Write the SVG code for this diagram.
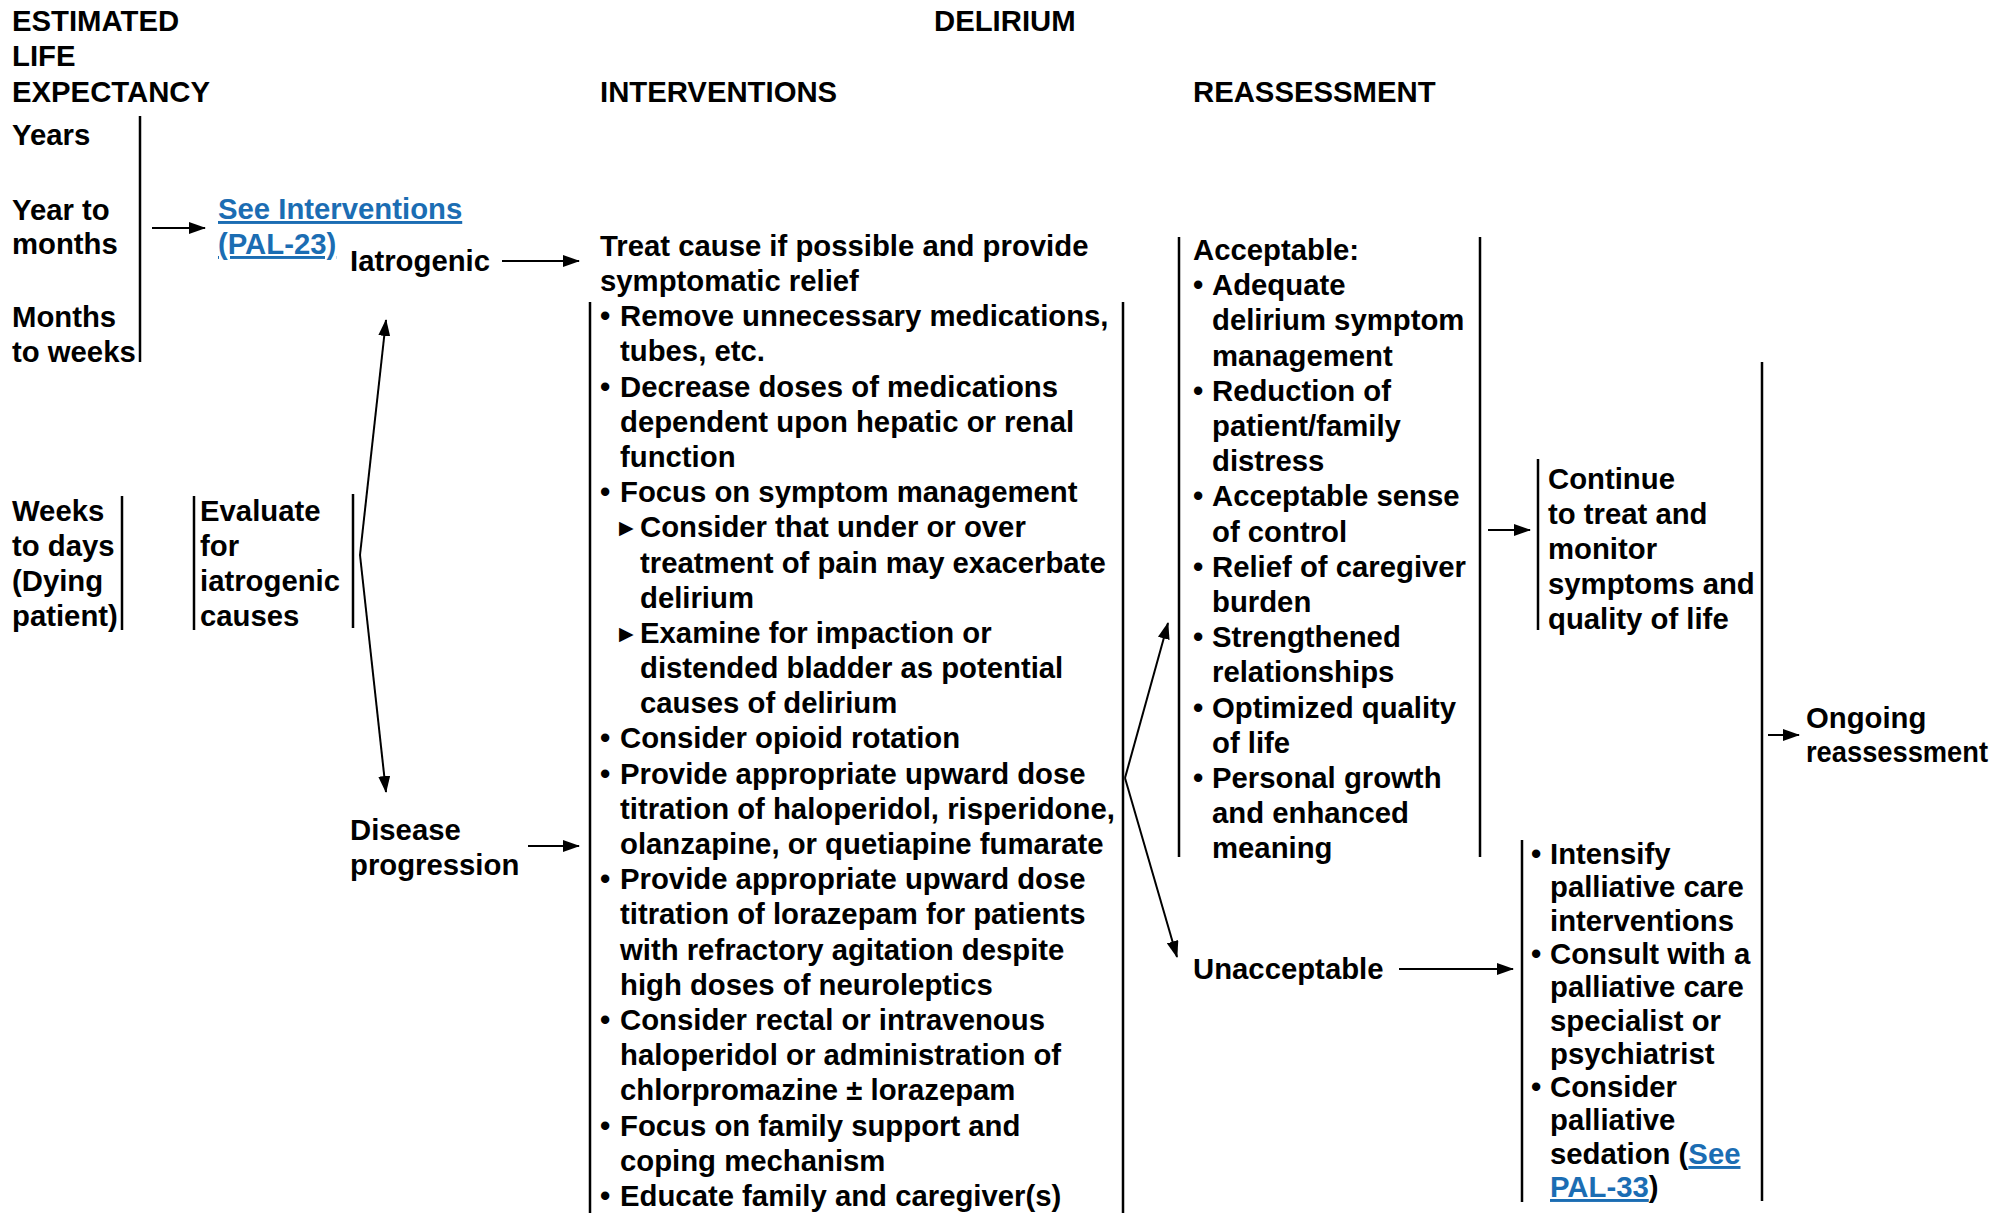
<svg xmlns="http://www.w3.org/2000/svg" width="1999" height="1213" viewBox="0 0 1999 1213">
<style>
text{font-family:"Liberation Sans",Arial,sans-serif;font-weight:bold;font-size:29.3px;fill:#000}
.lk{fill:#1b6db3;text-decoration:underline}
.tri{font-family:"DejaVu Sans",sans-serif;font-size:19px}
.bar{stroke:#000;stroke-width:2.5;fill:none}
.con{stroke:#000;stroke-width:2;fill:none;marker-end:url(#ah)}
</style>
<defs>
<marker id="ah" markerUnits="userSpaceOnUse" markerWidth="17" markerHeight="12" refX="16" refY="6" orient="auto">
<path d="M0,0 L17,6 L0,12 z" fill="#000"/>
</marker>
</defs>
<rect width="1999" height="1213" fill="#fff"/>

<g id="headers">
<text x="12" y="31">ESTIMATED</text>
<text x="12" y="66">LIFE</text>
<text x="12" y="102">EXPECTANCY</text>
<text x="934" y="31">DELIRIUM</text>
<text x="600" y="102">INTERVENTIONS</text>
<text x="1193" y="102">REASSESSMENT</text>
</g>

<g id="life-expectancy">
<text x="12" y="145">Years</text>
<text x="12" y="220">Year to</text>
<text x="12" y="254">months</text>
<text x="12" y="327">Months</text>
<text x="12" y="362">to weeks</text>
<line class="bar" x1="140" y1="116" x2="140" y2="362"/>
</g>

<g id="see-interventions">
<text class="lk" x="218" y="219">See Interventions</text>
<text class="lk" x="218" y="254">(PAL-23)</text>
</g>

<g id="weeks-to-days">
<text x="12" y="521">Weeks</text>
<text x="12" y="556">to days</text>
<text x="12" y="591">(Dying</text>
<text x="12" y="626">patient)</text>
<line class="bar" x1="122" y1="496" x2="122" y2="630"/>
</g>

<g id="evaluate">
<line class="bar" x1="194" y1="496" x2="194" y2="630"/>
<text x="200" y="521">Evaluate</text>
<text x="200" y="556">for</text>
<text x="200" y="591">iatrogenic</text>
<text x="200" y="626">causes</text>
<line class="bar" x1="353" y1="494" x2="353" y2="628"/>
</g>

<g id="iatrogenic"><text x="350" y="271">Iatrogenic</text></g>
<g id="disease-progression">
<text x="350" y="840">Disease</text>
<text x="350" y="875">progression</text>
</g>

<g id="interventions">
<text x="600" y="256">Treat cause if possible and provide</text>
<text x="600" y="291">symptomatic relief</text>
<line class="bar" x1="590" y1="302" x2="590" y2="1213"/>
<line class="bar" x1="1123" y1="302" x2="1123" y2="1213"/>
<text x="600" y="326">•</text><text x="620" y="326">Remove unnecessary medications,</text>
<text x="620" y="361">tubes, etc.</text>
<text x="600" y="397">•</text><text x="620" y="397">Decrease doses of medications</text>
<text x="620" y="432">dependent upon hepatic or renal</text>
<text x="620" y="467">function</text>
<text x="600" y="502">•</text><text x="620" y="502">Focus on symptom management</text>
<text class="tri" x="619" y="534">▶</text><text x="640" y="537">Consider that under or over</text>
<text x="640" y="573">treatment of pain may exacerbate</text>
<text x="640" y="608">delirium</text>
<text class="tri" x="619" y="640">▶</text><text x="640" y="643">Examine for impaction or</text>
<text x="640" y="678">distended bladder as potential</text>
<text x="640" y="713">causes of delirium</text>
<text x="600" y="748">•</text><text x="620" y="748">Consider opioid rotation</text>
<text x="600" y="784">•</text><text x="620" y="784">Provide appropriate upward dose</text>
<text x="620" y="819">titration of haloperidol, risperidone,</text>
<text x="620" y="854">olanzapine, or quetiapine fumarate</text>
<text x="600" y="889">•</text><text x="620" y="889">Provide appropriate upward dose</text>
<text x="620" y="924">titration of lorazepam for patients</text>
<text x="620" y="960">with refractory agitation despite</text>
<text x="620" y="995">high doses of neuroleptics</text>
<text x="600" y="1030">•</text><text x="620" y="1030">Consider rectal or intravenous</text>
<text x="620" y="1065">haloperidol or administration of</text>
<text x="620" y="1100">chlorpromazine ± lorazepam</text>
<text x="600" y="1136">•</text><text x="620" y="1136">Focus on family support and</text>
<text x="620" y="1171">coping mechanism</text>
<text x="600" y="1206">•</text><text x="620" y="1206">Educate family and caregiver(s)</text>
</g>

<g id="acceptable">
<line class="bar" x1="1179" y1="237" x2="1179" y2="857"/>
<line class="bar" x1="1480" y1="237" x2="1480" y2="857"/>
<text x="1193" y="260">Acceptable:</text>
<text x="1193" y="295">•</text><text x="1212" y="295">Adequate</text>
<text x="1212" y="330">delirium symptom</text>
<text x="1212" y="366">management</text>
<text x="1193" y="401">•</text><text x="1212" y="401">Reduction of</text>
<text x="1212" y="436">patient/family</text>
<text x="1212" y="471">distress</text>
<text x="1193" y="506">•</text><text x="1212" y="506">Acceptable sense</text>
<text x="1212" y="542">of control</text>
<text x="1193" y="577">•</text><text x="1212" y="577">Relief of caregiver</text>
<text x="1212" y="612">burden</text>
<text x="1193" y="647">•</text><text x="1212" y="647">Strengthened</text>
<text x="1212" y="682">relationships</text>
<text x="1193" y="718">•</text><text x="1212" y="718">Optimized quality</text>
<text x="1212" y="753">of life</text>
<text x="1193" y="788">•</text><text x="1212" y="788">Personal growth</text>
<text x="1212" y="823">and enhanced</text>
<text x="1212" y="858">meaning</text>
</g>

<g id="unacceptable"><text x="1193" y="979">Unacceptable</text></g>

<g id="continue">
<line class="bar" x1="1538" y1="459" x2="1538" y2="630"/>
<text x="1548" y="489">Continue</text>
<text x="1548" y="524">to treat and</text>
<text x="1548" y="559">monitor</text>
<text x="1548" y="594">symptoms and</text>
<text x="1548" y="629">quality of life</text>
</g>

<g id="intensify">
<line class="bar" x1="1522" y1="840" x2="1522" y2="1202"/>
<text x="1531" y="864">•</text><text x="1550" y="864">Intensify</text>
<text x="1550" y="897">palliative care</text>
<text x="1550" y="931">interventions</text>
<text x="1531" y="964">•</text><text x="1550" y="964">Consult with a</text>
<text x="1550" y="997">palliative care</text>
<text x="1550" y="1031">specialist or</text>
<text x="1550" y="1064">psychiatrist</text>
<text x="1531" y="1097">•</text><text x="1550" y="1097">Consider</text>
<text x="1550" y="1130">palliative</text>
<text x="1550" y="1164">sedation (<tspan class="lk">See</tspan></text>
<text x="1550" y="1197"><tspan class="lk">PAL-33</tspan>)</text>
</g>

<g id="ongoing">
<line class="bar" x1="1762" y1="362" x2="1762" y2="1201"/>
<text x="1806" y="728">Ongoing</text>
<text x="1806" y="762" textLength="182" lengthAdjust="spacingAndGlyphs">reassessment</text>
</g>

<g id="connectors">
<line class="con" x1="152" y1="228" x2="205" y2="228"/>
<line class="con" x1="502" y1="261" x2="579" y2="261"/>
<line class="con" x1="360" y1="555" x2="386" y2="320"/>
<line class="con" x1="360" y1="555" x2="386" y2="792"/>
<line class="con" x1="528" y1="846" x2="579" y2="846"/>
<line class="con" x1="1125" y1="778" x2="1168" y2="623"/>
<line class="con" x1="1125" y1="778" x2="1177" y2="957"/>
<line class="con" x1="1488" y1="530" x2="1530" y2="530"/>
<line class="con" x1="1399" y1="969" x2="1513" y2="969"/>
<line class="con" x1="1768" y1="735" x2="1799" y2="735"/>
</g>
</svg>
